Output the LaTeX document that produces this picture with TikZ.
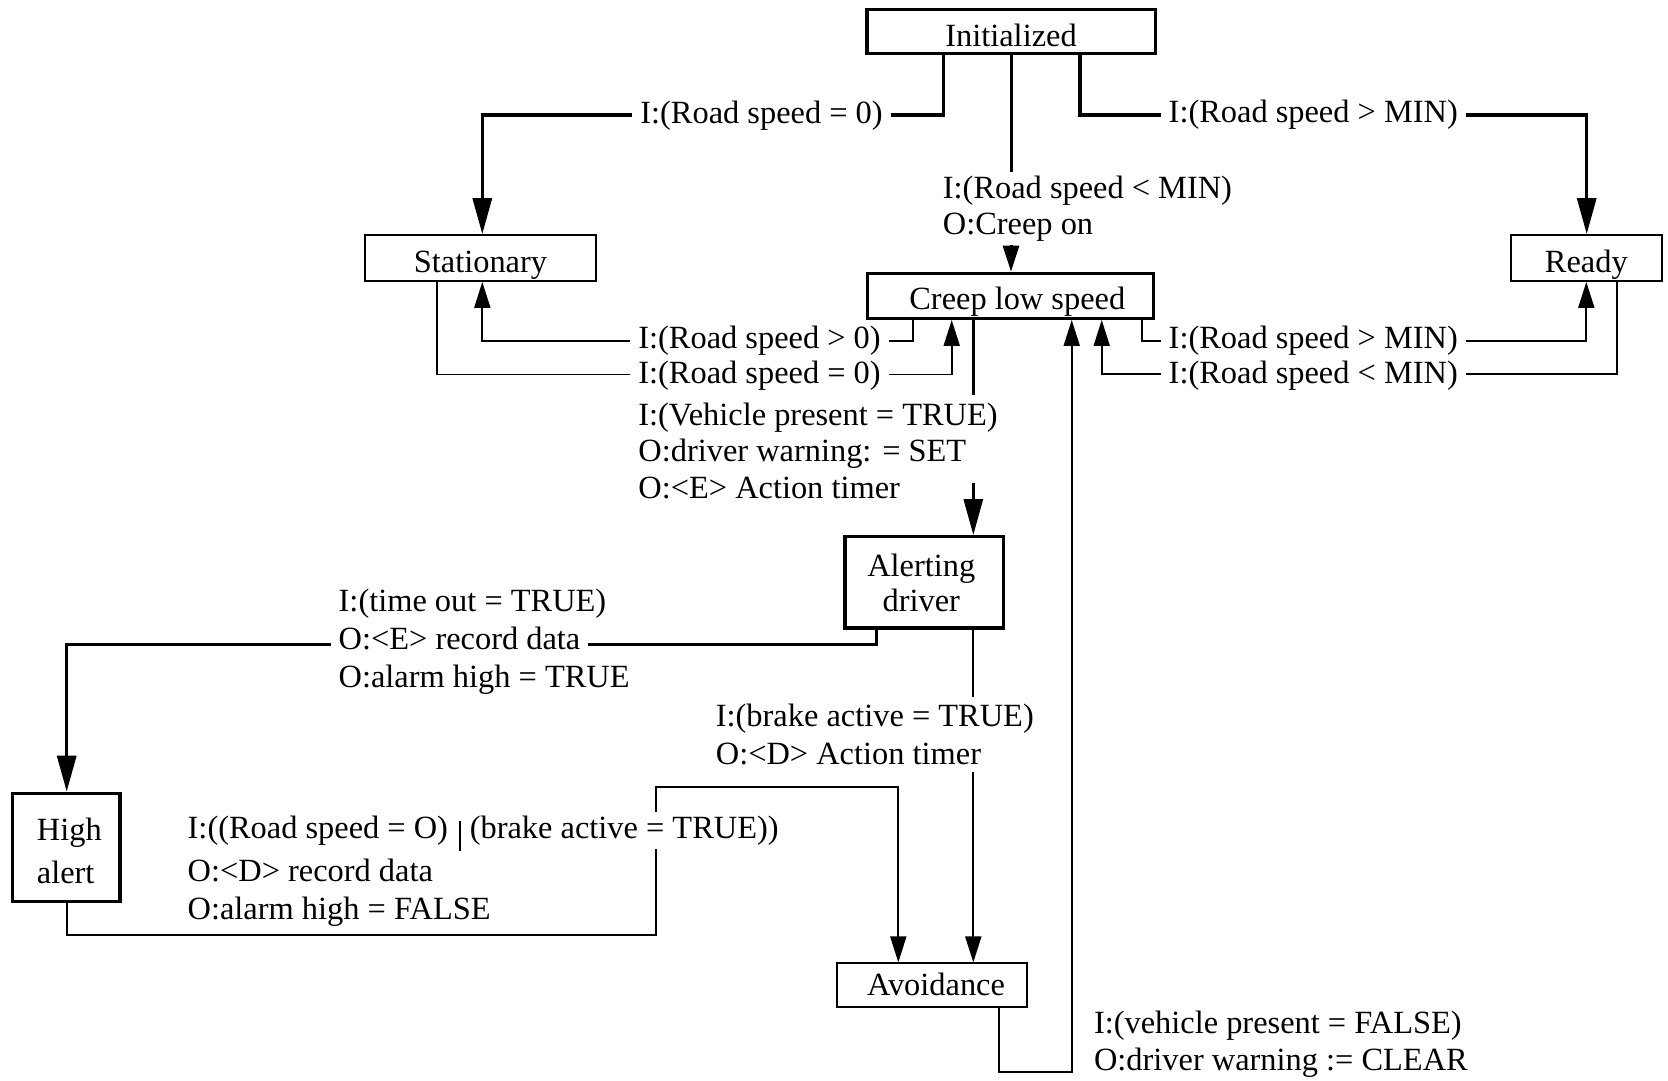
\documentclass[tikz,border=0pt]{standalone}
\usepackage{fontspec}
\setmainfont{Liberation Serif}
\usetikzlibrary{arrows.meta}
\newcommand{\orbar}{\raisebox{-6.3pt}[0pt][0pt]{\rule{1pt}{15pt}}}
\begin{document}
\begin{tikzpicture}[x=0.5pt,y=-0.5pt,
  every node/.style={font=\fontsize{16.2pt}{18pt}\selectfont},
  tbox/.style={draw, line width=1.65pt, inner sep=0pt, text height=15pt, text depth=0pt},
  nbox/.style={draw, line width=0.9pt, inner sep=0pt, text height=15pt, text depth=0pt},
  lbl/.style={anchor=base west, inner xsep=4pt, inner ysep=2pt, xshift=-4pt},
  lblw/.style={lbl, fill=white},
  thk/.style={line width=1.65pt, -{Triangle[length=18pt,width=9.5pt]}},
  thn/.style={line width=0.9pt, -{Triangle[length=13pt,width=8pt]}},
  med/.style={line width=1.5pt},
  medthk/.style={line width=1.5pt, -{Triangle[length=18pt,width=9.5pt]}},
  medthn/.style={line width=1.5pt, -{Triangle[length=13pt,width=8pt]}},
  tline/.style={line width=0.9pt}
]
\useasboundingbox (0,0) rectangle (1668,1080);

% states
\node[tbox, minimum width=144.15pt, minimum height=22pt] (init) at (1011,31.3) {Initialized};
\node[tbox, minimum width=143pt, minimum height=22.5pt, text height=14.2pt] (creep) at (1010.3,295.8) {\hspace*{7pt}Creep low speed};
\node[nbox, minimum width=115.5pt, minimum height=23pt] (stat) at (480.5,258) {Stationary};
\node[nbox, minimum width=75.3pt, minimum height=23pt] (ready) at (1586.3,258) {Ready};
\node[tbox, minimum width=79.2pt, minimum height=45.6pt] (alert) at (924.2,582.3) {};
\node[anchor=base, inner sep=0pt] (alertA) at (921.3,576.6) {Alerting};
\node[anchor=base, inner sep=0pt] (alertB) at (921.3,611.7) {driver};
\node[tbox, minimum width=53.7pt, minimum height=54.2pt] (high) at (66.3,847.5) {};
\node[anchor=base west, inner sep=0pt] (highA) at (36.5,840) {High};
\node[anchor=base west, inner sep=0pt] (highB) at (36.5,883.3) {alert};
\node[nbox, minimum width=95pt, minimum height=21.7pt, text height=10.7pt] (avoid) at (932.3,985) {\hspace*{3.7pt}Avoidance};

% bend points
\coordinate (c1a) at (943.3,115);  \coordinate (c1b) at (482.3,115);
\coordinate (c2a) at (1080,115);   \coordinate (c2b) at (1586.7,115);
\coordinate (c3a) at (1011,171.7); \coordinate (c3b) at (1011,245);
\coordinate (c4a) at (913.3,340.7); \coordinate (c4b) at (482.3,340.7);
\coordinate (c5a) at (437.3,374.5); \coordinate (c5b) at (951.7,374.5);
\coordinate (c6a) at (973.3,395);  \coordinate (c6b) at (973.3,483.3);
\coordinate (c7a) at (1141.7,340.7); \coordinate (c7b) at (1586.3,340.7);
\coordinate (c8a) at (1616.7,374.3); \coordinate (c8b) at (1101.7,374.3);
\coordinate (c9a) at (999.3,1072); \coordinate (c9b) at (1071.7,1072);
\coordinate (c10a) at (876.6,644.5); \coordinate (c10b) at (66.7,644.5);
\coordinate (c11a) at (973.3,697.3); \coordinate (c11b) at (973.3,771.7);
\coordinate (c12a) at (66.7,935); \coordinate (c12b) at (655.7,935);
\coordinate (c12c) at (655.7,786.7); \coordinate (c12d) at (898.3,786.7);

% connectors
\draw[thk] (init.south -| c1a) -- (c1a) -- (c1b) -- (stat.north -| c1b);
\draw[thk] (init.south -| c2a) -- (c2a) -- (c2b) -- (ready.north -| c2b);
\draw[med] (init.south -| c3a) -- (c3a);
\draw[medthn] (c3b) -- (creep.north -| c3b);
\draw[thn] (creep.south -| c4a) -- (c4a) -- (c4b) -- (stat.south -| c4b);
\draw[thn] (stat.south -| c5a) -- (c5a) -- (c5b) -- (creep.south -| c5b);
\draw[med] (creep.south -| c6a) -- (c6a);
\draw[medthk] (c6b) -- (alert.north -| c6b);
\draw[thn] (creep.south -| c7a) -- (c7a) -- (c7b) -- (ready.south -| c7b);
\draw[thn] (ready.south -| c8a) -- (c8a) -- (c8b) -- (creep.south -| c8b);
\draw[thn] (avoid.south -| c9a) -- (c9a) -- (c9b) -- (creep.south -| c9b);
\draw[thk] (alert.south -| c10a) -- (c10a) -- (c10b) -- (high.north -| c10b);
\draw[tline] (alert.south -| c11a) -- (c11a);
\draw[thn] (c11b) -- (avoid.north -| c11b);
\draw[thn] (high.south -| c12a) -- (c12a) -- (c12b) -- (c12c) -- (c12d) -- (avoid.north -| c12d);

% labels that interrupt a connector
\node[lblw] (l1) at (640,123.3) {I:(Road speed = 0)};
\node[lblw] (l2) at (1168.3,123) {I:(Road speed > MIN)};
\node[lblw] (l4) at (638,348.3) {I:(Road speed > 0)};
\node[lblw] (l5) at (638,383) {I:(Road speed = 0)};
\node[lblw] (l7) at (1168.3,348.3) {I:(Road speed > MIN)};
\node[lblw] (l8) at (1168.3,383.3) {I:(Road speed < MIN)};
\node[lblw] (l10b) at (338.3,649.5) {O:<E> record data};
\node[lblw] (l12a) at (187.3,838) {I:((Road speed = O)\hspace*{5.6pt}\orbar\hspace*{4.3pt}(brake active = TRUE))};

% other labels
\node[lbl] (l3a) at (942.5,198.5) {I:(Road speed < MIN)};
\node[lbl] (l3b) at (942.5,235) {O:Creep on};
\node[lbl] (l6a) at (638,425) {I:(Vehicle present = TRUE)};
\node[lbl] (l6b) at (638,461.7) {O:driver warning: = SET};
\node[lbl] (l6c) at (638,498.3) {O:<E> Action timer};
\node[lbl] (l9a) at (1093.6,1033.3) {I:(vehicle present = FALSE)};
\node[lbl] (l9b) at (1093.6,1070) {O:driver warning := CLEAR};
\node[lbl] (l10a) at (338.3,611.7) {I:(time out = TRUE)};
\node[lbl] (l10c) at (338.3,687) {O:alarm high = TRUE};
\node[lbl] (l11a) at (715.5,726) {I:(brake active = TRUE)};
\node[lbl] (l11b) at (715.5,764) {O:<D> Action timer};
\node[lbl] (l12b) at (187.3,881.7) {O:<D> record data};
\node[lbl] (l12c) at (187.3,919) {O:alarm high = FALSE};
\end{tikzpicture}
\end{document}
